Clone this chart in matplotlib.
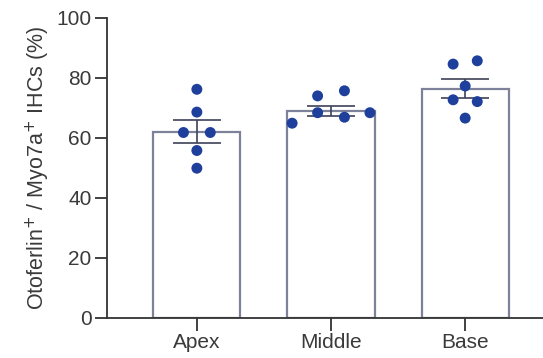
import numpy as np
import matplotlib
matplotlib.use("Agg")
import matplotlib.pyplot as plt

# values
groups = ["Apex", "Middle", "Base"]
means = [62.1, 69.1, 76.4]
sems = [3.8, 1.7, 3.2]
apex = [76.2, 68.6, 61.8, 61.8, 55.8, 49.9]
middle = [64.9, 74.0, 68.4, 75.7, 66.9, 68.4]
base = [84.6, 85.7, 77.3, 72.7, 72.1, 66.6]
points = [apex, middle, base]

# horizontal spread of the dots inside each bar
spread = [
    [0, 0, -0.1, 0.1, 0, 0],
    [-0.29, -0.1, -0.1, 0.1, 0.1, 0.29],
    [-0.09, 0.09, 0, -0.09, 0.09, 0],
]

plt.rcParams['font.family'] = ['Liberation Sans', 'DejaVu Sans']

fig = plt.figure(figsize=(5.43, 3.58), dpi=100)
ax = fig.add_axes([0.197, 0.112, 0.803, 0.838])

x = np.arange(len(groups))
ax.bar(x, means, width=0.65, facecolor='white', edgecolor='#7d8199',
       linewidth=1.6, zorder=1)

for i, vals in enumerate(points):
    ax.scatter(x[i] + np.array(spread[i]), vals, s=62, color='#1e3f9c',
               edgecolor='none', zorder=3)

ax.errorbar(x, means, yerr=sems, fmt='none', ecolor='#3d4257',
            elinewidth=1.2, capsize=17, capthick=1.2, zorder=2)

ax.set_xlim(-0.67, 2.58)
ax.set_ylim(0, 100)
ax.set_yticks([0, 20, 40, 60, 80, 100])
ax.set_xticks(x)
ax.set_xticklabels(groups)
ax.set_ylabel('Otoferlin$^{+}$ / Myo7a$^{+}$ IHCs (%)', fontsize=15.5,
              color='#3a3a3a', labelpad=3)

for side in ['top', 'right']:
    ax.spines[side].set_visible(False)
for side in ['left', 'bottom']:
    ax.spines[side].set_linewidth(1.3)
    ax.spines[side].set_color('#333333')
ax.tick_params(axis='both', length=9, width=1.3, color='#333333',
               labelsize=15, labelcolor='#3a3a3a', pad=2)

fig.savefig('out.png', dpi=100)
